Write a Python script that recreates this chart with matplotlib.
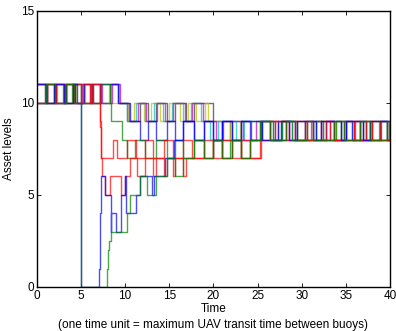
import matplotlib
matplotlib.use("Agg")
import matplotlib.pyplot as plt

# -----------------------------
# Data: (time, level) breakpoints per series
# -----------------------------
black = [(0, 11), (1.1, 10), (2.2, 11), (3.3, 10), (4.3, 11), (5.3, 10), (6.3, 11), (7.2, 10),
         (8.3, 11), (9.2, 10), (10.2, 9), (11.7, 10), (12.6, 9), (13.5, 10), (14.7, 9), (15.6, 10),
         (16.9, 9), (17.8, 10), (20.0, 9), (21.0, 8), (21.9, 9), (24.2, 8), (25.5, 9), (27.3, 8),
         (28.2, 9), (30.4, 8), (31.3, 9), (33.6, 8), (34.5, 9), (36.6, 8), (37.7, 9), (39.6, 8), (40, 8)]

yellow = [(0, 10), (1.2, 11), (2.3, 10), (3.4, 11), (4.4, 10), (5.4, 11), (6.2, 10), (7.3, 11),
          (8.2, 10), (10.3, 9), (11.0, 10), (12.1, 9), (12.9, 10), (14.0, 9), (15.0, 10), (16.2, 9),
          (17.1, 10), (18.0, 9), (19.0, 10), (19.4, 9), (21.9, 8), (23.0, 9), (26.4, 8), (27.65, 9),
          (29.5, 8), (30.6, 9), (32.7, 8), (33.85, 9), (35.9, 8), (36.9, 9), (38.9, 8), (39.9, 9), (40, 9)]

cyan = [(0, 11), (1.0, 10), (2.1, 11), (3.1, 10), (4.1, 11), (5.0, 10), (6.1, 11), (7.1, 10),
        (8.4, 11), (9.3, 10), (10.2, 9), (11.2, 10), (12.3, 9), (13.3, 10), (14.3, 9), (15.3, 10),
        (16.5, 9), (17.5, 10), (18.6, 9), (19.6, 8), (20.5, 9), (22.5, 8), (23.5, 9), (26.7, 8),
        (27.8, 9), (28.9, 8), (31.6, 9), (32.4, 8), (34.8, 9), (35.7, 8), (38.0, 9), (38.7, 8), (40, 8)]

magenta = [(0, 10), (0.9, 11), (2.0, 10), (3.2, 11), (4.2, 10), (5.1, 11), (6.0, 10), (6.4, 11),
           (7.4, 10), (8.5, 11), (9.4, 10), (10.4, 9), (11.5, 10), (12.4, 9), (13.6, 10), (14.5, 9),
           (15.4, 10), (16.8, 9), (17.6, 10), (18.8, 9), (20.3, 8), (21.1, 9), (23.3, 8), (24.8, 9),
           (27.0, 8), (28.5, 9), (29.2, 8), (31.0, 9), (32.2, 8), (33.2, 9), (35.0, 8), (36.0, 9),
           (37.3, 8), (39.0, 9), (40, 9)]

blue1 = [(0, 10), (1.1, 11), (2.2, 10), (3.3, 11), (4.3, 10), (5.3, 11), (6.3, 10), (7.1, 11),
         (9.2, 10), (10.5, 9), (11.7, 8), (12.6, 9), (13.5, 8), (14.7, 9), (15.6, 8), (16.6, 9),
         (17.8, 8), (18.9, 9), (20.0, 8), (21.0, 9), (22.1, 8), (23.1, 9), (24.1, 8), (25.4, 9),
         (26.4, 8), (27.3, 9), (29.2, 8), (30.4, 9), (31.3, 8), (32.7, 9), (33.6, 8), (35.0, 9),
         (35.7, 8), (36.9, 9), (37.7, 8), (38.9, 9), (39.6, 8), (40, 8)]

green1 = [(0, 11), (0.9, 10), (2.0, 11), (3.0, 10), (4.0, 11), (5.0, 10), (6.1, 11), (6.4, 10),
          (7.3, 11), (8.3, 10), (8.35, 9), (9.7, 8), (10.2, 7), (11.1, 8), (12.2, 7), (13.5, 8),
          (14.7, 7), (15.6, 8), (16.6, 7), (17.8, 8), (18.9, 7), (20.0, 8), (21.0, 7), (21.9, 8),
          (23.1, 7), (24.1, 8), (25.3, 9), (26.7, 8), (27.8, 9), (29.5, 8), (31.6, 9), (32.4, 8),
          (33.85, 9), (34.5, 8), (36.6, 9), (37.3, 8), (38.9, 9), (39.6, 8), (40, 8)]

red1 = [(0, 10), (1.2, 11), (2.1, 10), (3.1, 11), (4.1, 10), (5.2, 11), (6.0, 10), (6.3, 11),
        (7.1, 10), (7.15, 9.4), (7.2, 8.7), (7.25, 8), (7.3, 7), (8.6, 8), (9.1, 7), (10.2, 8),
        (11.2, 7), (12.2, 8), (13.1, 7), (14.4, 8), (15.4, 7), (16.6, 8), (17.6, 7), (18.9, 8),
        (19.9, 7), (21.0, 8), (22.1, 7), (23.1, 8), (24.1, 7), (25.4, 8), (26.4, 9), (28.5, 8),
        (29.2, 9), (30.6, 8), (32.2, 9), (33.2, 8), (34.8, 9), (35.9, 8), (37.3, 9), (38.0, 8),
        (39.9, 9), (40, 9)]

red2 = [(0, 11), (1.1, 10), (2.2, 11), (3.2, 10), (4.2, 11), (5.0, 10), (7.2, 9), (7.25, 8),
        (7.3, 7), (7.35, 6), (7.7, 5), (8.3, 6), (9.5, 5), (10.0, 6), (10.6, 7), (11.3, 6),
        (12.2, 7), (13.1, 6), (13.5, 7), (14.4, 6), (14.7, 7), (15.4, 6), (15.6, 7), (16.6, 6),
        (16.9, 7), (17.8, 7), (20.0, 8), (21.0, 7), (22.1, 8), (23.1, 7), (25.3, 8), (27.0, 9),
        (28.2, 8), (30.4, 9), (31.3, 8), (32.7, 9), (33.6, 8), (35.9, 9), (36.6, 8), (38.0, 9),
        (38.9, 8), (40, 8)]

blue2 = [(0, 11), (1.0, 10), (2.0, 11), (3.1, 10), (4.1, 11), (4.6, 10), (5.0, 0), (7.05, 1),
         (7.1, 2), (7.15, 3), (7.2, 4), (7.25, 5), (7.3, 6), (7.7, 5), (8.4, 3), (8.4, 4),
         (9.0, 3), (9.5, 4), (9.5, 5), (10.0, 6), (10.1, 4), (11.2, 5), (11.7, 6), (13.0, 5),
         (13.3, 6), (14.5, 7), (15.5, 8), (16.6, 9), (17.8, 8), (18.9, 9), (20.0, 8), (21.0, 9),
         (22.1, 8), (23.1, 9), (25.5, 8), (27.65, 9), (28.5, 8), (29.5, 9), (31.6, 8), (32.2, 9),
         (34.5, 8), (35.0, 9), (36.9, 8), (37.7, 9), (40, 9)]

green2 = [(0, 10), (1.0, 11), (2.1, 10), (3.3, 11), (4.2, 10), (5.0, 0), (8.0, 1), (8.1, 2),
          (8.2, 2.5), (8.4, 3), (10.2, 4), (10.5, 5), (11.7, 6), (12.5, 5), (13.5, 6), (14.7, 7),
          (15.6, 6), (16.6, 7), (17.8, 8), (18.9, 7), (20.0, 8), (21.0, 7), (22.1, 8), (23.1, 7),
          (24.1, 8), (25.3, 9), (26.4, 8), (28.2, 9), (28.9, 8), (30.6, 9), (31.3, 8), (33.6, 9),
          (34.8, 8), (36.6, 9), (37.7, 8), (39.6, 9), (40, 9)]

series = [
    (black, (0.2, 0.2, 0.2)),
    (yellow, (0.75, 0.75, 0.0)),
    (cyan, (0.0, 0.75, 0.75)),
    (magenta, (0.75, 0.0, 0.75)),
    (blue1, (0.0, 0.0, 1.0)),
    (green1, (0.0, 0.5, 0.0)),
    (red1, (1.0, 0.0, 0.0)),
    (red2, (1.0, 0.0, 0.0)),
    (blue2, (0.0, 0.0, 1.0)),
    (green2, (0.0, 0.5, 0.0)),
]

plt.rcParams["font.family"] = ["Liberation Sans", "DejaVu Sans"]
plt.rcParams["font.size"] = 8.5

fig = plt.figure(figsize=(3.96, 3.31), dpi=100)
ax = fig.add_axes([0.093, 0.133, 0.892, 0.835])

for pts, color in series:
    t = [p[0] for p in pts]
    v = [p[1] for p in pts]
    ax.step(t, v, where="post", color=color, linewidth=1.0, alpha=0.7)

ax.set_xlim(0, 40)
ax.set_ylim(0, 15)
ax.set_xticks(range(0, 41, 5))
ax.set_yticks([0, 5, 10, 15])
ax.tick_params(direction="in", top=True, right=True, length=3, width=0.6, pad=2)
for s in ax.spines.values():
    s.set_linewidth(1.0)

ax.set_ylabel("Asset levels", labelpad=4)
ax.set_xlabel("Time\n(one time unit = maximum UAV transit time between buoys)",
              linespacing=1.4, labelpad=1)

fig.savefig("out.png", dpi=100)
